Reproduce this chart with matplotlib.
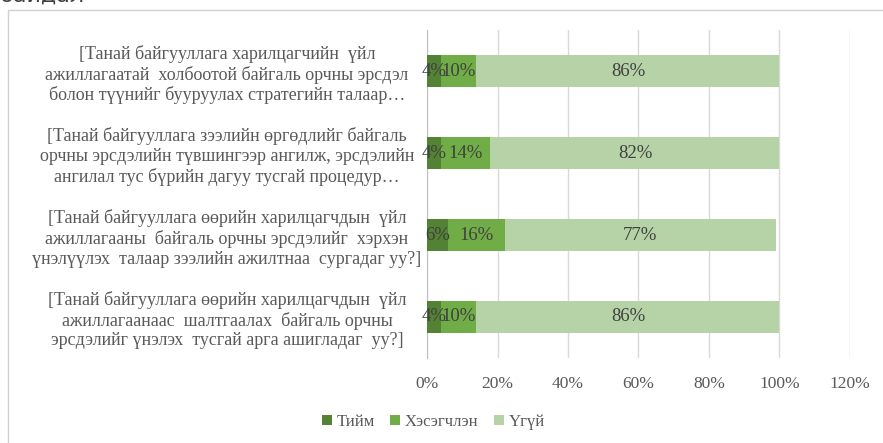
import matplotlib.pyplot as plt
from matplotlib.patches import Rectangle
from matplotlib.ticker import PercentFormatter
import numpy as np

# Data (top question first)
questions = [
    "[Танай байгууллага харилцагчийн  үйл\nажиллагаатай  холбоотой байгаль орчны эрсдэл\nболон түүнийг бууруулах стратегийн талаар…",
    "[Танай байгууллага зээлийн өргөдлийг байгаль\nорчны эрсдэлийн түвшингээр ангилж, эрсдэлийн\nангилал тус бүрийн дагуу тусгай процедур…",
    "[Танай байгууллага өөрийн харилцагчдын  үйл\nажиллагааны  байгаль орчны эрсдэлийг  хэрхэн\nүнэлүүлэх  талаар зээлийн ажилтнаа  сургадаг уу?]",
    "[Танай байгууллага өөрийн харилцагчдын  үйл\nажиллагаанаас  шалтгаалах  байгаль орчны\nэрсдэлийг үнэлэх  тусгай арга ашигладаг  уу?]",
]
series_names = ["Тийм", "Хэсэгчлэн", "Үгүй"]
tiim = [0.04, 0.04, 0.06, 0.04]
hesegchlen = [0.10, 0.14, 0.16, 0.10]
ugui = [0.86, 0.82, 0.77, 0.86]
colors = ["#548235", "#70ad47", "#b5d3a6"]

plt.rcParams['font.family'] = ['Liberation Serif', 'DejaVu Serif']

fig = plt.figure(figsize=(8.83, 4.43), dpi=100)
ax = fig.add_axes([0.4836, 0.192, 0.479, 0.740])

# outer chart frame
fig.patches.append(Rectangle((8 / 883, -0.1), 1.0, 1.1 - 10 / 443, transform=fig.transFigure,
                             fill=False, edgecolor="#d0d0d0", linewidth=1.0))
# heading cut off at the top
fig.text(0.0, 1 - 3 / 443, "байдал", fontsize=16, color="#404040", family="DejaVu Sans",
         va="baseline", ha="left")

y = np.arange(len(questions))
left = np.zeros(len(questions))
for name, vals, c in zip(series_names, [tiim, hesegchlen, ugui], colors):
    bars = ax.barh(y, vals, left=left, height=0.39, color=c, label=name, zorder=3)
    for b, v, l in zip(bars, vals, left):
        ax.text(l + v / 2, b.get_y() + b.get_height() / 2, f"{v * 100:.0f}%",
                ha="center", va="center", fontsize=13.5, color="#404040", zorder=4)
    left = left + np.array(vals)

ax.set_ylim(len(questions) - 0.5, -0.5)
ax.set_xlim(0, 1.2)
ax.set_xticks(np.arange(0, 1.21, 0.2))
ax.xaxis.set_major_formatter(PercentFormatter(1.0, decimals=0))
ax.set_yticks(y)
ax.set_yticklabels(questions, fontsize=13, color="#595959", ha="center",
                   linespacing=1.2)
ax.tick_params(axis="y", length=0, pad=144)
ax.tick_params(axis="x", length=0, labelsize=12.5, labelcolor="#595959", pad=13)
ax.grid(axis="x", color="#d9d9d9", linewidth=1.0, zorder=0)
for s in ["top", "right", "bottom"]:
    ax.spines[s].set_visible(False)
ax.spines["left"].set_color("#bfbfbf")

ax.legend(loc="upper center", bbox_to_anchor=(0.015, -0.125), ncol=3, frameon=False,
          fontsize=12, handlelength=0.6, handleheight=0.6, handletextpad=0.3,
          columnspacing=0.9, labelcolor="#595959")

fig.savefig("out.png", dpi=100)
